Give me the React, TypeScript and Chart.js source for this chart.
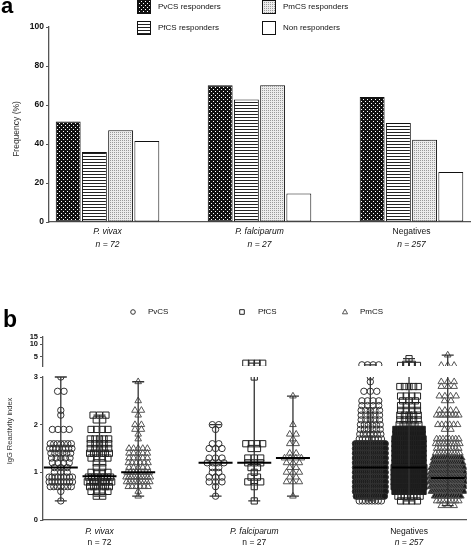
import React, { useEffect, useRef } from 'react';
import { Chart, registerables } from 'chart.js';
Chart.register(...registerables);

// ---------------- data : panel a ----------------
const groupLabels = ['P. vivax', 'P. falciparum', 'Negatives'];
const groupSizes = ['n = 72', 'n = 27', 'n = 257'];
const responderLabels = ['PvCS responders', 'PfCS responders', 'PmCS responders', 'Non responders'];
const pvcsResponders = [51.6, 70.1, 64.1];
const pfcsResponders = [35.9, 62.8, 50.8];
const pmcsResponders = [47.0, 70.1, 42.2];
const nonResponders = [41.5, 14.6, 25.6];
const frequencyTicks = [0, 20, 40, 60, 80, 100];
const groupPositions = [0, 1, 2];

// ---------------- data : panel b ----------------
// [reactivity index, number of individuals with that value]
const antigenLabels = ['PvCS', 'PfCS', 'PmCS'];
const lowTicks = [0, 1, 2, 3];
const highTicks = [5, 10, 15];
const vivaxPvCS = [[3.0,1],[2.7,2],[2.3,1],[2.2,1],[1.9,4],[1.6,7],[1.5,8],[1.4,6],[1.3,5],[1.2,4],[1.1,3],[1.0,3],[0.9,9],[0.8,9],[0.7,7],[0.6,1],[0.4,1]];
const vivaxPfCS = [[2.2,3],[2.1,2],[1.9,4],[1.7,5],[1.6,5],[1.5,5],[1.4,6],[1.3,4],[1.2,2],[1.1,2],[1.0,4],[0.9,8],[0.8,10],[0.7,6],[0.6,4],[0.5,2]];
const vivaxPmCS = [[2.9,1],[2.5,1],[2.3,2],[2.2,1],[2.0,2],[1.9,2],[1.8,1],[1.7,1],[1.5,5],[1.4,5],[1.3,5],[1.2,6],[1.1,5],[1.0,8],[0.9,10],[0.8,9],[0.7,6],[0.6,1],[0.5,1]];
const falciparumPvCS = [[2.0,2],[1.9,1],[1.6,2],[1.5,3],[1.3,3],[1.2,4],[1.1,2],[1.0,2],[0.9,3],[0.8,3],[0.7,1],[0.5,1]];
const falciparumPfCS = [[3.5,4],[3.0,1],[1.6,4],[1.5,2],[1.3,3],[1.2,3],[1.1,2],[1.0,1],[0.9,2],[0.8,3],[0.7,1],[0.4,1]];
const falciparumPmCS = [[2.6,1],[2.0,1],[1.8,2],[1.7,1],[1.6,2],[1.4,2],[1.3,4],[1.2,3],[1.1,2],[1.0,3],[0.9,2],[0.8,3],[0.5,1]];
const negativesPvCS = [[3.2,4],[3.0,1],[2.9,1],[2.7,3],[2.5,4],[2.4,4],[2.3,5],[2.2,5],[2.1,5],[2.0,6],[1.9,6],[1.8,7],[1.7,8],[1.6,16],[1.5,16],[1.4,16],[1.3,16],[1.2,16],[1.1,16],[1.0,16],[0.9,16],[0.8,16],[0.7,16],[0.6,16],[0.5,14],[0.4,8]];
const negativesPfCS = [[4.5,1],[3.3,2],[3.1,4],[2.8,5],[2.6,4],[2.5,3],[2.4,4],[2.3,4],[2.2,5],[2.1,5],[2.0,6],[1.9,12],[1.8,12],[1.7,14],[1.6,14],[1.5,14],[1.4,14],[1.3,14],[1.2,14],[1.1,16],[1.0,16],[0.9,16],[0.8,16],[0.7,16],[0.6,14],[0.5,8],[0.4,4]];
const negativesPmCS = [[5.5,1],[3.1,3],[2.9,3],[2.8,3],[2.6,4],[2.5,2],[2.3,4],[2.2,8],[2.0,6],[1.9,2],[1.7,8],[1.6,10],[1.5,8],[1.4,10],[1.3,14],[1.2,16],[1.1,20],[1.0,22],[0.9,24],[0.8,24],[0.7,22],[0.6,20],[0.5,12],[0.4,8],[0.3,3]];
const mediansVivax = [1.1, 0.92, 1.0];
const mediansFalciparum = [1.2, 1.2, 1.3];
const mediansNegatives = [1.1, 1.1, 0.88];

// ---------------- styling ----------------
const FONT = '"Liberation Sans", Arial, sans-serif';
const NARROW = '"Liberation Sans Narrow", "Liberation Sans", Arial, sans-serif';
const AXIS = '#555';
const PX_PER_UNIT_B = 156;
const STEP_PX = 6.5;
const DENSE_PX = 2.6;

function makePatterns(ctx: CanvasRenderingContext2D) {
  const tile = (w: number, h: number, draw: (g: CanvasRenderingContext2D) => void) => {
    const c = document.createElement('canvas');
    c.width = w; c.height = h;
    const g = c.getContext('2d')!;
    draw(g);
    return ctx.createPattern(c, 'repeat') as CanvasPattern;
  };
  const dots = tile(4, 4, (g) => {
    g.fillStyle = '#111'; g.fillRect(0, 0, 4, 4);
    g.fillStyle = '#fff'; g.fillRect(1, 1, 1, 1); g.fillRect(3, 3, 1, 1);
  });
  const stripes = tile(4, 3, (g) => {
    g.fillStyle = '#fff'; g.fillRect(0, 0, 4, 3);
    g.fillStyle = '#222'; g.fillRect(0, 0, 4, 1);
  });
  const stipple = tile(2, 2, (g) => {
    g.fillStyle = '#ececec'; g.fillRect(0, 0, 2, 2);
    g.fillStyle = '#9a9a9a'; g.fillRect(0, 0, 1, 1);
  });
  return [dots, stripes, stipple, '#ffffff'];
}

// horizontal spreading of equal values (scatter dot plot layout)
function spread(rows: number[][], colX: number) {
  const pts: { x: number; y: number; dense: boolean }[] = [];
  for (const [v, n] of rows) {
    const spanPx = Math.min((n - 1) * STEP_PX, STEP_PX * Math.sqrt(n) + 4);
    const gapPx = n > 1 ? spanPx / (n - 1) : 99;
    const span = spanPx / PX_PER_UNIT_B;
    for (let i = 0; i < n; i++) {
      const off = n === 1 ? 0 : -span / 2 + (span * i) / (n - 1);
      pts.push({ x: colX + off, y: v, dense: gapPx < DENSE_PX });
    }
  }
  return pts;
}

export default function App() {
  const aRef = useRef<HTMLCanvasElement>(null);
  const bRef = useRef<HTMLCanvasElement>(null);

  useEffect(() => {
    // ---------------- panel a ----------------
    const ctxA = aRef.current!.getContext('2d')!;
    const fills = makePatterns(ctxA);
    const seriesA = [pvcsResponders, pfcsResponders, pmcsResponders, nonResponders];

    const pluginA = {
      id: 'panelA',
      afterDraw(chart: any) {
        const c = chart.ctx;
        const xs = chart.scales.x;
        c.save();
        c.fillStyle = '#000';
        c.font = `bold 22px ${FONT}`;
        c.textAlign = 'left'; c.textBaseline = 'alphabetic';
        c.fillText('a', 1, 13);
        // legend
        const pos = [[137, 0], [137, 21], [262, 0], [262, 21]];
        c.font = `8px ${NARROW}`;
        c.textBaseline = 'middle';
        responderLabels.forEach((lab, i) => {
          const [bx, by] = pos[i];
          c.fillStyle = fills[i] as any;
          c.fillRect(bx, by, 13, 13);
          c.strokeStyle = '#111'; c.lineWidth = 1;
          c.strokeRect(bx + 0.5, by + 0.5, 13, 13);
          c.fillStyle = '#111';
          c.fillText(lab, bx + 21, by + 6.5);
        });
        // y title
        c.save();
        c.translate(17, 129);
        c.rotate(-Math.PI / 2);
        c.textAlign = 'center';
        c.font = `8.5px ${NARROW}`;
        c.fillStyle = '#333';
        c.fillText('Frequency (%)', 0, 0);
        c.restore();
        // x labels
        c.textAlign = 'center';
        c.fillStyle = '#111';
        groupLabels.forEach((lab, i) => {
          const px = xs.getPixelForValue(groupPositions[i]);
          c.font = `${i < 2 ? 'italic ' : ''}8.5px ${NARROW}`;
          c.fillText(lab, px, 232);
          c.font = `italic 8.5px ${NARROW}`;
          c.fillText(groupSizes[i], px, 245);
        });
        c.restore();
      },
    };

    const chartA = new Chart(ctxA, {
      type: 'bar',
      data: {
        datasets: seriesA.map((vals, k) => ({
          label: responderLabels[k],
          data: vals.map((v, i) => ({ x: groupPositions[i], y: v })),
          backgroundColor: fills[k] as any,
          borderColor: '#111',
          borderWidth: 1,
          borderSkipped: false,
          categoryPercentage: 0.69,
          barPercentage: 0.95,
        })),
      },
      options: {
        responsive: false,
        animation: false,
        events: [],
        devicePixelRatio: 1,
        layout: { padding: { top: 27, right: 2, left: 0, bottom: 0 } },
        plugins: { legend: { display: false }, tooltip: { enabled: false } },
        scales: {
          x: {
            type: 'linear', min: -0.385, max: 2.385, offset: false,
            afterBuildTicks: (s: any) => { s.ticks = groupPositions.map((v) => ({ value: v })); },
            grid: { display: false, offset: false }, ticks: { display: false },
            border: { color: AXIS, width: 1.3 },
            afterFit: (s: any) => { s.height = 68; },
          },
          y: {
            type: 'linear', min: 0, max: 100,
            afterBuildTicks: (s: any) => { s.ticks = frequencyTicks.map((v) => ({ value: v })); },
            ticks: { font: { family: FONT, size: 8.5, weight: 'bold' }, color: '#111', padding: 2, autoSkip: false },
            grid: { drawOnChartArea: false, tickLength: 3, color: AXIS },
            border: { color: AXIS, width: 1.3 },
            afterFit: (s: any) => { s.width = 49; },
          },
        },
      } as any,
      plugins: [pluginA],
    });

    // ---------------- panel b ----------------
    const ctxB = bRef.current!.getContext('2d')!;
    const groupRows = [
      [vivaxPvCS, vivaxPfCS, vivaxPmCS],
      [falciparumPvCS, falciparumPfCS, falciparumPmCS],
      [negativesPvCS, negativesPfCS, negativesPmCS],
    ];
    const groupMedians = [mediansVivax, mediansFalciparum, mediansNegatives];
    const styles = ['circle', 'rect', 'triangle'];
    const radii = [3.2, 4.4, 3.8];
    const colors = ['#333', '#222', '#555'];

    const columns: { x: number; min: number; max: number; median: number }[] = [];
    const datasetsB: any[] = [];
    groupRows.forEach((rowsByAntigen, g) => {
      rowsByAntigen.forEach((rows, a) => {
        const cx = groupPositions[g] + (a - 1) * 0.25;
        const vals = rows.map((r) => r[0]);
        columns.push({ x: cx, min: Math.min(...vals), max: Math.max(...vals), median: groupMedians[g][a] });
        const pts = spread(rows, cx);
        const make = (sub: typeof pts, axis: string) => ({
          label: antigenLabels[a],
          data: sub.map((p) => ({ x: p.x, y: p.y })),
          yAxisID: axis,
          pointStyle: styles[a],
          pointRadius: radii[a],
          borderColor: colors[a],
          backgroundColor: sub.map((p) => (p.dense ? '#1a1a1a' : 'rgba(255,255,255,0)')),
          pointBorderWidth: 1,
          showLine: false,
        });
        datasetsB.push(make(pts.filter((p) => p.y <= 3), 'y'));
        const hi = pts.filter((p) => p.y > 3);
        if (hi.length) datasetsB.push(make(hi, 'y2'));
      });
    });

    const pluginB = {
      id: 'panelB',
      afterDatasetsDraw(chart: any) {
        const c = chart.ctx;
        const xs = chart.scales.x, yl = chart.scales.y, yh = chart.scales.y2;
        c.save();
        columns.forEach((col) => {
          const px = xs.getPixelForValue(col.x);
          const yMin = yl.getPixelForValue(col.min);
          const yTopLow = yl.getPixelForValue(Math.min(col.max, 3));
          c.strokeStyle = '#333';
          c.lineWidth = 1.3;
          c.beginPath();
          c.moveTo(px, yMin); c.lineTo(px, yTopLow);
          c.moveTo(px - 6, yMin); c.lineTo(px + 6, yMin);
          let yMax = yTopLow;
          if (col.max > 3) {
            yMax = yh.getPixelForValue(col.max);
            c.moveTo(px, yh.bottom); c.lineTo(px, yMax);
          }
          c.moveTo(px - 6, yMax); c.lineTo(px + 6, yMax);
          c.stroke();
          const ym = yl.getPixelForValue(col.median);
          c.strokeStyle = '#000';
          c.lineWidth = 2;
          c.beginPath();
          c.moveTo(px - 17, ym); c.lineTo(px + 17, ym);
          c.stroke();
        });
        c.restore();
      },
      afterDraw(chart: any) {
        const c = chart.ctx;
        const xs = chart.scales.x;
        c.save();
        c.fillStyle = '#000';
        c.font = `bold 23px ${FONT}`;
        c.textAlign = 'left'; c.textBaseline = 'alphabetic';
        c.fillText('b', 3, 37);
        // legend
        const mx = [133, 242, 345];
        const tx = [148, 258, 360];
        c.font = `8px ${NARROW}`;
        c.textBaseline = 'middle';
        antigenLabels.forEach((lab, i) => {
          const y = 22;
          c.strokeStyle = colors[i];
          c.lineWidth = 1;
          c.beginPath();
          if (i === 0) c.arc(mx[i], y, 2.3, 0, Math.PI * 2);
          else if (i === 1) c.rect(mx[i] - 2.3, y - 2.3, 4.6, 4.6);
          else { c.moveTo(mx[i], y - 2.8); c.lineTo(mx[i] + 2.6, y + 1.8); c.lineTo(mx[i] - 2.6, y + 1.8); c.closePath(); }
          c.stroke();
          c.fillStyle = '#111';
          c.fillText(lab, tx[i], y);
        });
        // y title
        c.save();
        c.translate(9.5, 141);
        c.rotate(-Math.PI / 2);
        c.textAlign = 'center';
        c.font = `7.5px ${NARROW}`;
        c.fillStyle = '#333';
        c.fillText('IgG Reactivity index', 0, 0);
        c.restore();
        // x labels
        c.textAlign = 'center';
        c.fillStyle = '#111';
        groupLabels.forEach((lab, i) => {
          const px = xs.getPixelForValue(groupPositions[i]);
          c.font = `${i < 2 ? 'italic ' : ''}8.5px ${NARROW}`;
          c.fillText(lab, px, 242);
          c.font = `${i === 2 ? 'italic ' : ''}8.5px ${NARROW}`;
          c.fillText(groupSizes[i], px, 253);
        });
        c.restore();
      },
    };

    const tickFont = { family: FONT, size: 7.5, weight: 'bold' };
    const leftAxis = {
      position: 'left',
      stack: 'igg',
      grid: { drawOnChartArea: false, tickLength: 3, color: AXIS },
      border: { color: AXIS, width: 1.3 },
      afterFit: (s: any) => { s.width = 43; },
    };

    const chartB = new Chart(ctxB, {
      type: 'scatter',
      data: { datasets: datasetsB },
      options: {
        responsive: false,
        animation: false,
        events: [],
        devicePixelRatio: 1,
        layout: { padding: { top: 47, right: 2, left: 0, bottom: 0 } },
        plugins: { legend: { display: false }, tooltip: { enabled: false } },
        scales: {
          x: {
            type: 'linear', min: -0.365, max: 2.372, offset: false,
            grid: { display: false }, ticks: { display: false },
            border: { color: AXIS, width: 1.3 },
            afterFit: (s: any) => { s.height = 27; },
          },
          y: {
            ...leftAxis, type: 'linear', min: 0, max: 3, stackWeight: 143,
            afterBuildTicks: (s: any) => { s.ticks = lowTicks.map((v) => ({ value: v })); },
            ticks: { font: tickFont, color: '#111', padding: 2, autoSkip: false },
          },
          gap: {
            type: 'linear', position: 'left', stack: 'igg', stackWeight: 11, min: 0, max: 1,
            grid: { display: false }, ticks: { display: false }, border: { display: false },
            afterFit: (s: any) => { s.width = 43; },
          },
          y2: {
            ...leftAxis, type: 'logarithmic', min: 3, max: 15, stackWeight: 29,
            afterBuildTicks: (s: any) => { s.ticks = highTicks.map((v) => ({ value: v })); },
            ticks: { font: tickFont, color: '#111', padding: 2, autoSkip: false, callback: (v: any) => String(v) },
          },
        },
      } as any,
      plugins: [pluginB],
    });

    return () => { chartA.destroy(); chartB.destroy(); };
  }, []);

  return (
    <div style={{ position: 'absolute', left: 0, top: 0, width: 472, height: 547, background: '#fff' }}>
      <canvas ref={aRef} width={472} height={290} style={{ position: 'absolute', left: 0, top: 0, width: 472, height: 290 }} />
      <canvas ref={bRef} width={472} height={257} style={{ position: 'absolute', left: 0, top: 290, width: 472, height: 257 }} />
    </div>
  );
}
